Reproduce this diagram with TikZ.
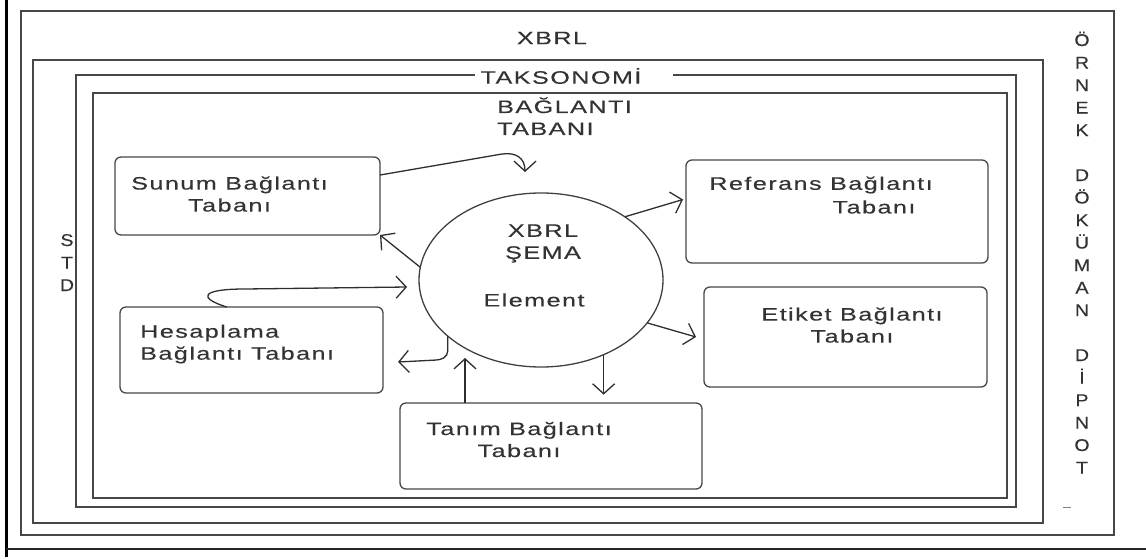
\documentclass[tikz,border=0pt]{standalone}
\usepackage{fontspec}
\setmainfont{Liberation Sans}[FakeStretch=1.4,LetterSpace=8,FakeBold=0.3]
\newfontfamily\uprightsans{Liberation Sans}[FakeStretch=1.15,FakeBold=0.3]
\usetikzlibrary{shapes.geometric,arrows.meta,calc}

\tikzset{
  frame/.style={draw=black!72, line width=1.4pt},
  tabbox/.style={draw=black!72, line width=1.3pt, rounded corners=6pt,
                 inner sep=0pt, outer sep=0pt},
  lbl/.style={text=black!80, align=center, inner sep=0pt,
              font=\fontsize{18}{22}\selectfont},
  vlbl/.style={text=black!80, align=center, inner sep=0pt,
               font=\uprightsans\fontsize{17}{22.5}\selectfont},
  arr/.style={draw=black!82, line width=1.3pt,
              -{Straight Barb[length=10pt,width=22pt,line width=1.3pt]}}
}

\begin{document}
\begin{tikzpicture}[x=1pt,y=-1pt]
\useasboundingbox (0,0) rectangle (1146,559);

% page edge lines
\draw[line width=3pt, black] (6.5,0) -- (6.5,557);
\draw[line width=2pt, black!85] (6,549) -- (1146,549);

% nested frames
\draw[frame] (21,11) rectangle (1114,535);
\draw[frame] (33,60) rectangle (1043,523);
\draw[frame] (475,75) -- (76,75) -- (76,507) -- (1016,507) -- (1016,75) -- (673,75);
\draw[frame] (93,93) rectangle (1007,498);
\draw[draw=black!50, line width=1pt] (1063,507) -- (1071,507);

% frame titles (multi-line nodes sit on the baseline of their last line)
\node[lbl] (xbrltitle) at (552,38) {XBRL};
\node[lbl] (takso) at (561,76) {TAKSONOMİ};
\node[lbl, align=left, anchor=base west] (baglanti) at (497,135) {BAĞLANTI\\TABANI};
\node[vlbl, anchor=base] (std) at (67,291) {S\\T\\D};
\node[vlbl, anchor=base] (ornek) at (1082,473.5)
  {Ö\\R\\N\\E\\K\\\mbox{}\\D\\Ö\\K\\Ü\\M\\A\\N\\\mbox{}\\D\\İ\\P\\N\\O\\T};

% linkbase boxes
\node[tabbox, minimum width=265pt, minimum height=78pt]  (sunum) at (247.5,196) {};
\node[tabbox, minimum width=263pt, minimum height=86pt]  (hes)   at (251.5,350) {};
\node[tabbox, minimum width=302pt, minimum height=86pt]  (tanim) at (551,446) {};
\node[tabbox, minimum width=302pt, minimum height=103pt] (ref)   at (837,211.5) {};
\node[tabbox, minimum width=283pt, minimum height=100pt] (eti)   at (845.5,337) {};

\node[lbl] at ([xshift=-18pt,yshift=2pt]sunum.center) {Sunum Bağlantı\\Tabanı};
\node[lbl, align=left, anchor=west] at ([xshift=20pt,yshift=6pt]hes.west) {Hesaplama\\Bağlantı Tabanı};
\node[lbl] at ([xshift=-32pt,yshift=6.5pt]tanim.center) {Tanım Bağlantı\\Tabanı};
\node[lbl] at ([xshift=-16pt,yshift=26.5pt]ref.center) {Referans Bağlantı};
\node[lbl] at ([xshift=37pt,yshift=4.5pt]ref.center) {Tabanı};
\node[lbl] at ([xshift=6.5pt,yshift=12pt]eti.center) {Etiket Bağlantı\\Tabanı};

% schema
\node[ellipse, draw=black!75, line width=1.3pt, minimum width=244pt,
      minimum height=174pt, inner sep=0pt, outer sep=0pt] (circ) at (541,280) {};
\node[lbl] at ([xshift=2pt,yshift=36.5pt]circ.center) {XBRL\\ŞEMA};
\node[lbl] at ([xshift=-7pt,yshift=-20pt]circ.center) {Element};

% relations
\draw[arr] (sunum.9) -- ++(122,-21)
  .. controls +(14,-2) and +(0,-14) .. ([xshift=-16pt,yshift=21pt]circ.north);
\draw[arr] (circ.37) -- ([xshift=-3pt,yshift=12pt]ref.west);
\draw[arr] (circ.174) -- (sunum.south east);
\draw[arr] (hes.120) .. controls (198,298) and (200,289) .. (245,289)
  -- ([xshift=-12pt,yshift=-7pt]circ.west);
\draw[arr] (circ.211) -- ++(0,15) to[out=-90,in=0] ++(-12,9)
  -- ([xshift=15pt,yshift=-12pt]hes.east);
\draw[arr] ([xshift=-86pt]tanim.north) -- ++(0,-45);
\draw[arr] (circ.-50) -- ++(0,40);
\draw[arr] (circ.-22) -- ([xshift=-8pt]eti.west);
\end{tikzpicture}
\end{document}
